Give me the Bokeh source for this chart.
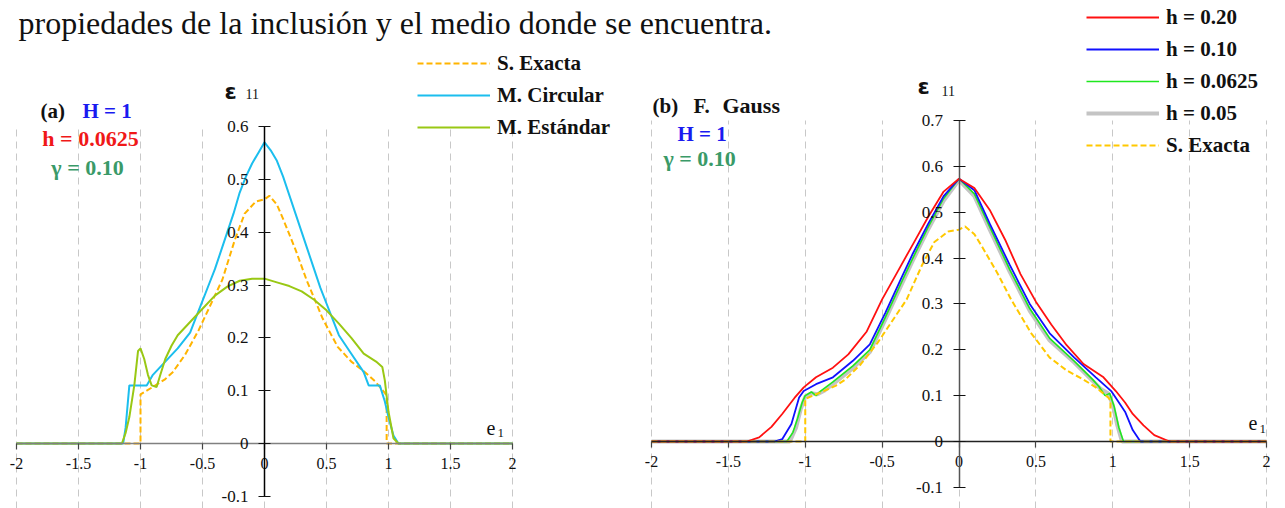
from bokeh.plotting import figure
from bokeh.models import (Range1d, LinearAxis, FixedTicker, NumeralTickFormatter,
                          Grid, Legend, LegendItem, Label)
from bokeh.embed import file_html
from bokeh.resources import INLINE

W, H = 1285, 508

# ---------------------------------------------------------------- data
x_ticks = [-2, -1.5, -1, -0.5, 0, 0.5, 1, 1.5, 2]
ya_ticks = [-0.1, 0, 0.1, 0.2, 0.3, 0.4, 0.5, 0.6]
yb_ticks = [-0.1, 0, 0.1, 0.2, 0.3, 0.4, 0.5, 0.6, 0.7]

# exact solution (same in both panels)
x_exact = [-2.0, -1.0, -1.0, -0.95, -0.88, -0.8, -0.74, -0.64, -0.53, -0.42, -0.34,
           -0.24, -0.16, -0.07, 0.0, 0.04, 0.1, 0.15, 0.25, 0.34, 0.47, 0.59, 0.7,
           0.81, 0.89, 0.97, 0.985, 0.985, 2.0]
y_exact = [0.0, 0.0, 0.093, 0.1, 0.11, 0.122, 0.135, 0.168, 0.215, 0.27, 0.31,
           0.385, 0.435, 0.458, 0.462, 0.469, 0.452, 0.425, 0.367, 0.309, 0.236, 0.183, 0.155,
           0.135, 0.118, 0.096, 0.09, 0.0, 0.0]

# (a) circular model
x_circ = [-2.0, -1.14, -1.12, -1.09, -0.95, -0.9, -0.8, -0.7, -0.6, -0.55, -0.5, -0.45,
          -0.4, -0.35, -0.3, -0.25, -0.2, -0.15, -0.1, -0.05, 0.0, 0.05, 0.1, 0.15, 0.2,
          0.25, 0.3, 0.35, 0.4, 0.45, 0.5, 0.55, 0.6, 0.7, 0.8, 0.84, 0.93, 0.97, 1.0,
          1.04, 1.08, 2.0]
y_circ = [0.0, 0.0, 0.03, 0.11, 0.11, 0.13, 0.155, 0.18, 0.21, 0.24, 0.27, 0.30,
          0.33, 0.365, 0.40, 0.435, 0.475, 0.505, 0.53, 0.55, 0.57, 0.555, 0.535, 0.505, 0.47,
          0.435, 0.40, 0.365, 0.33, 0.295, 0.265, 0.235, 0.205, 0.17, 0.135, 0.11, 0.11, 0.08, 0.05,
          0.015, 0.0, 0.0]

# (a) standard model
x_std = [-2.0, -1.15, -1.12, -1.09, -1.05, -1.02, -1.0, -0.97, -0.94, -0.91, -0.87, -0.84,
         -0.8, -0.75, -0.7, -0.6, -0.5, -0.4, -0.3, -0.2, -0.1, 0.0, 0.1, 0.2, 0.3, 0.4,
         0.5, 0.6, 0.7, 0.8, 0.9, 0.95, 0.97, 1.0, 1.04, 1.08, 2.0]
y_std = [0.0, 0.0, 0.02, 0.05, 0.11, 0.175, 0.18, 0.16, 0.13, 0.11, 0.107, 0.13,
         0.16, 0.185, 0.205, 0.23, 0.255, 0.28, 0.297, 0.308, 0.312, 0.312, 0.305, 0.298, 0.288, 0.272,
         0.252, 0.227, 0.2, 0.17, 0.155, 0.145, 0.12, 0.06, 0.01, 0.0, 0.0]

# (b) Gauss filter, several mesh sizes h
x_h20 = [-2.0, -1.38, -1.3, -1.22, -1.15, -1.07, -1.01, -0.93, -0.82, -0.72, -0.6, -0.5,
         -0.4, -0.3, -0.2, -0.1, 0.0, 0.1, 0.2, 0.3, 0.4, 0.5, 0.6, 0.7, 0.81, 0.94, 1.02,
         1.08, 1.13, 1.2, 1.27, 1.37, 2.0]
y_h20 = [0.0, 0.0, 0.009, 0.032, 0.06, 0.095, 0.118, 0.14, 0.161, 0.19, 0.24, 0.31,
         0.37, 0.43, 0.49, 0.545, 0.573, 0.553, 0.505, 0.44, 0.365, 0.305, 0.255, 0.21, 0.169, 0.14, 0.11,
         0.085, 0.06, 0.035, 0.014, 0.0, 0.0]

x_h10 = [-2.0, -1.2, -1.15, -1.09, -1.04, -1.01, -0.93, -0.82, -0.69, -0.58, -0.48, -0.37,
         -0.3, -0.2, -0.1, 0.0, 0.1, 0.2, 0.33, 0.46, 0.59, 0.75, 0.89, 0.99, 1.04, 1.08,
         1.13, 1.18, 2.0]
y_h10 = [0.0, 0.0, 0.005, 0.038, 0.096, 0.11, 0.125, 0.14, 0.176, 0.212, 0.28, 0.36,
         0.41, 0.475, 0.535, 0.573, 0.548, 0.475, 0.385, 0.30, 0.236, 0.183, 0.14, 0.11, 0.085, 0.065,
         0.025, 0.0, 0.0]

x_h0625 = [-2.0, -1.12, -1.08, -1.05, -1.02, -1.0, -0.96, -0.93, -0.9, -0.82, -0.69, -0.58,
           -0.48, -0.37, -0.3, -0.2, -0.1, 0.0, 0.1, 0.2, 0.33, 0.46, 0.59, 0.75, 0.87, 0.91,
           0.95, 0.98, 1.01, 1.04, 1.07, 2.0]
y_h0625 = [0.0, 0.0, 0.02, 0.05, 0.085, 0.1, 0.108, 0.1, 0.11, 0.13, 0.165, 0.2,
           0.27, 0.35, 0.4, 0.468, 0.53, 0.573, 0.54, 0.468, 0.375, 0.29, 0.225, 0.175, 0.135, 0.12,
           0.1, 0.105, 0.075, 0.03, 0.0, 0.0]

x_h05 = [-2.0, -1.1, -1.06, -1.03, -1.0, -0.96, -0.92, -0.88, -0.82, -0.69, -0.58, -0.48,
         -0.37, -0.3, -0.2, -0.1, 0.0, 0.1, 0.2, 0.33, 0.46, 0.59, 0.75, 0.87, 0.92, 0.97,
         1.0, 1.03, 1.06, 2.0]
y_h05 = [0.0, 0.0, 0.03, 0.07, 0.098, 0.105, 0.103, 0.11, 0.125, 0.16, 0.195, 0.265,
         0.345, 0.395, 0.463, 0.525, 0.57, 0.535, 0.462, 0.37, 0.285, 0.22, 0.172, 0.132, 0.115, 0.105,
         0.08, 0.035, 0.0, 0.0]

# ---------------------------------------------------------------- page geometry
SERIF = "Liberation Serif"


def x_range_for(v0, p0, v1, p1):
    s = (p1 - p0) / (v1 - v0)
    return Range1d(v0 - p0 / s, v0 + (W - p0) / s)


def y_range_for(v0, p0, v1, p1):
    s = (p0 - p1) / (v1 - v0)
    return Range1d(v0 - (H - p0) / s, v0 + p0 / s)


xr_a = x_range_for(-2, 16, 2, 512)
yr_a = y_range_for(0, 443, 0.6, 126)
xr_b = x_range_for(-2, 651, 2, 1266)
yr_b = y_range_for(0, 441, 0.7, 120)

p = figure(width=W, height=H, x_range=xr_a, y_range=yr_a,
           x_axis_type=None, y_axis_type=None,
           output_backend="svg", toolbar_location=None, min_border=0)
p.outline_line_color = None
p.background_fill_color = "white"
p.border_fill_color = "white"
p.extra_x_ranges = {"b": xr_b}
p.extra_y_ranges = {"b": yr_b}


def add_panel(rname, yticks, ytop, xaxis_color, yaxis_color, ylab_size):
    kw = {} if rname is None else dict(x_range_name=rname, y_range_name=rname)
    yr = yr_a if rname is None else yr_b
    grid = Grid(dimension=0, ticker=FixedTicker(ticks=x_ticks), bounds=(-2, 2),
                cross_bounds=(yr.start, ytop),
                grid_line_color="#C8C8C8", grid_line_dash="7 5", grid_line_width=1, **kw)
    p.add_layout(grid)
    xa = LinearAxis(fixed_location=0, bounds=(-2, 2), ticker=FixedTicker(ticks=x_ticks),
                    formatter=NumeralTickFormatter(format="0.[0]"),
                    axis_line_color=xaxis_color, axis_line_width=1.5,
                    major_tick_out=6, major_tick_in=0, major_tick_line_color="#444444",
                    major_tick_line_width=1.2, minor_tick_out=0, minor_tick_in=0,
                    major_label_text_font=SERIF, major_label_text_font_size="16px",
                    major_label_text_color="#111111", major_label_standoff=8, **kw)
    p.add_layout(xa, "below")
    ya = LinearAxis(fixed_location=0, bounds=(yticks[0], yticks[-1]),
                    ticker=FixedTicker(ticks=yticks),
                    formatter=NumeralTickFormatter(format="0.[0]"),
                    axis_line_color=yaxis_color, axis_line_width=1.5,
                    major_tick_out=6, major_tick_in=6, major_tick_line_color="#111111",
                    major_tick_line_width=1.2, minor_tick_out=0, minor_tick_in=0,
                    major_label_text_font=SERIF, major_label_text_font_size=ylab_size,
                    major_label_text_color="#111111", major_label_standoff=10, **kw)
    p.add_layout(ya, "left")


add_panel(None, ya_ticks, 0.6, "#808080", "#000000", "17px")
add_panel("b", yb_ticks, 0.7, "#222222", "#555555", "17px")

# ---------------------------------------------------------------- curves (a)
ra_ex = p.line(x_exact, y_exact, line_color="#FFB400", line_width=2, line_dash="6 3")
ra_c = p.line(x_circ, y_circ, line_color="#1BBEEE", line_width=2)
ra_s = p.line(x_std, y_std, line_color="#99C814", line_width=2)

# ---------------------------------------------------------------- curves (b)
bkw = dict(x_range_name="b", y_range_name="b")
rb_05 = p.line(x_h05, y_h05, line_color="#C4C4C4", line_width=4, **bkw)
rb_0625 = p.line(x_h0625, y_h0625, line_color="#1EE81E", line_width=1.6, **bkw)
rb_10 = p.line(x_h10, y_h10, line_color="#1010FF", line_width=1.8, **bkw)
rb_20 = p.line(x_h20, y_h20, line_color="#FF1010", line_width=1.8, **bkw)
rb_ex = p.line(x_exact, y_exact, line_color="#FFC800", line_width=2, line_dash="6 3", **bkw)

# ---------------------------------------------------------------- legends
ROW = 25      # rendered height of one legend row
GAP = 7       # gap between rows
leg_style = dict(orientation="vertical", padding=0, margin=0, spacing=GAP,
                 glyph_width=73, glyph_height=22, label_height=22, label_standoff=7,
                 label_text_font=SERIF, label_text_font_size="21px",
                 label_text_font_style="bold", label_text_color="#111111",
                 border_line_alpha=0, background_fill_alpha=0)


def legend_bottom(first_row_center, n):
    top = first_row_center - ROW / 2
    return H - (top + n * ROW + (n - 1) * GAP)


leg_a = Legend(items=[LegendItem(label="S. Exacta", renderers=[ra_ex]),
                      LegendItem(label="M. Circular", renderers=[ra_c]),
                      LegendItem(label="M. Estándar", renderers=[ra_s])],
               location=(417, legend_bottom(63, 3)), **leg_style)
p.add_layout(leg_a)

leg_b = Legend(items=[LegendItem(label="h = 0.20", renderers=[rb_20]),
                      LegendItem(label="h = 0.10", renderers=[rb_10]),
                      LegendItem(label="h = 0.0625", renderers=[rb_0625]),
                      LegendItem(label="h = 0.05", renderers=[rb_05]),
                      LegendItem(label="S. Exacta", renderers=[rb_ex])],
               location=(1086, legend_bottom(17, 5)), **leg_style)
p.add_layout(leg_b)


# ---------------------------------------------------------------- text
def txt(text, x, baseline, size, color="#111111", bold=True, font=SERIF, align="left"):
    p.add_layout(Label(x=x, y=H - baseline, x_units="screen", y_units="screen",
                       text=text, text_font=font, text_font_size=size,
                       text_font_style="bold" if bold else "normal",
                       text_color=color, text_align=align, text_baseline="alphabetic"))


BLUE, RED, GREEN = "#1A1AF0", "#F01818", "#3A9A68"

txt("propiedades de la inclusión y el medio donde se encuentra.", 18, 22, "32px",
    bold=False)

# panel (a) annotations
txt("(a)", 40, 110, "21px")
txt("H = 1", 82, 110, "21px", BLUE)
txt("h = 0.0625", 90, 138, "22px", RED, align="center")
txt("γ = 0.10", 87, 167, "22px", GREEN, align="center")
txt("ε", 224, 91, "22px", font="DejaVu Sans")
txt("11", 245, 93, "14px", bold=False)
txt("e", 486, 427, "20px", bold=False)
txt("1", 497, 432, "13px", bold=False)

# panel (b) annotations
txt("(b)", 652, 105, "21px")
txt("F.", 693, 105, "21px")
txt("Gauss", 722, 105, "22px")
txt("H = 1", 677, 133, "21px", BLUE)
txt("γ = 0.10", 663, 158, "22px", GREEN)
txt("ε", 917, 86, "22px", font="DejaVu Sans")
txt("11", 941, 90, "14px", bold=False)
txt("e", 1248, 422, "20px", bold=False)
txt("1", 1259, 428, "13px", bold=False)

open("out.html", "w").write(file_html(p, INLINE))
